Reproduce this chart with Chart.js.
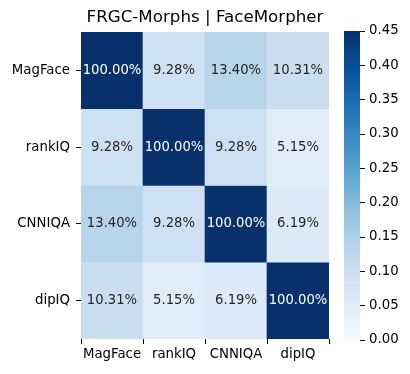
<!DOCTYPE html>
<html>
<head>
<meta charset="utf-8">
<script src="https://cdn.jsdelivr.net/npm/chart.js@4/dist/chart.umd.min.js"></script>
<style>
  html, body { margin: 0; padding: 0; background: #fff; }
  #wrap { position: relative; width: 410px; height: 374px; }
  #main { position: absolute; left: 0; top: 0; width: 410px; height: 374px; }
  #bar { position: absolute; left: 330px; top: 0; width: 80px; height: 374px; }
</style>
</head>
<body>
<div id="wrap">
  <div id="main"><canvas id="heatmap"></canvas></div>
  <div id="bar"><canvas id="colorbar"></canvas></div>
</div>
<script>
// data
const methods = ["MagFace", "rankIQ", "CNNIQA", "dipIQ"];
const rowMagFace = [1.0, 0.0928, 0.1340, 0.1031];
const rowRankIQ = [0.0928, 1.0, 0.0928, 0.0515];
const rowCNNIQA = [0.1340, 0.0928, 1.0, 0.0619];
const rowDipIQ = [0.1031, 0.0515, 0.0619, 1.0];
const matrix = [rowMagFace, rowRankIQ, rowCNNIQA, rowDipIQ];
const vmin = 0;
const vmax = 0.45;
const barTicks = [0, 0.05, 0.10, 0.15, 0.20, 0.25, 0.30, 0.35, 0.40, 0.45];
const titleText = "FRGC-Morphs | FaceMorpher";

// matplotlib "Blues"
const blues = [
    [247, 251, 255], [222, 235, 247], [198, 219, 239], [158, 202, 225],
    [107, 174, 214], [66, 146, 198], [33, 113, 181], [8, 81, 156], [8, 48, 107]
];

function bluesAt(t) {
    t = Math.max(0, Math.min(1, t));
    const pos = t * (blues.length - 1);
    const i = Math.min(Math.floor(pos), blues.length - 2);
    const f = pos - i;
    const a = blues[i], b = blues[i + 1];
    const c = a.map((v, k) => Math.round(v + (b[k] - v) * f));
    return `rgb(${c[0]}, ${c[1]}, ${c[2]})`;
}

function norm(v) {
    return (v - vmin) / (vmax - vmin);
}

const font = "'DejaVu Sans', sans-serif";
Chart.defaults.font.family = font;
Chart.defaults.color = "#000";

const datasets = matrix.map((row, r) => ({
    label: methods[r],
    data: row.map(() => [r, r + 1]),
    values: row,
    backgroundColor: row.map(v => bluesAt(norm(v))),
    borderWidth: 0,
    barPercentage: 1,
    categoryPercentage: 1,
    grouped: false
}));

// cell annotations
const annotate = {
    id: "annotate",
    afterDatasetsDraw(chart) {
        const ctx = chart.ctx;
        ctx.save();
        ctx.font = "13.2px " + font;
        ctx.textAlign = "center";
        ctx.textBaseline = "middle";
        chart.data.datasets.forEach((ds, i) => {
            chart.getDatasetMeta(i).data.forEach((el, j) => {
                const v = ds.values[j];
                ctx.fillStyle = norm(v) > 0.6 ? "#fff" : "#262626";
                ctx.fillText((v * 100).toFixed(2) + "%", el.x, (el.y + el.base) / 2);
            });
        });
        ctx.restore();
    }
};

new Chart(document.getElementById("heatmap"), {
    type: "bar",
    data: { labels: methods, datasets: datasets },
    options: {
        responsive: true,
        maintainAspectRatio: false,
        animation: false,
        layout: { padding: { left: 0, right: 81, top: 0, bottom: 0 } },
        plugins: {
            legend: { display: false },
            tooltip: { enabled: false },
            title: {
                display: true,
                text: titleText,
                fullSize: false,
                color: "#000",
                font: { size: 16.7, weight: "normal" },
                padding: { top: 8, bottom: 4 }
            }
        },
        scales: {
            x: {
                type: "category",
                grid: { drawOnChartArea: false, drawTicks: true, tickLength: 5, color: "#000" },
                border: { display: false },
                ticks: { font: { size: 13.3 }, padding: 3, maxRotation: 0 },
                afterFit(scale) { scale.height = 35; }
            },
            y: {
                type: "linear",
                min: 0,
                max: methods.length,
                reverse: true,
                afterBuildTicks(scale) {
                    scale.ticks = methods.map((m, i) => ({ value: i + 0.5 }));
                },
                grid: { drawOnChartArea: false, drawTicks: true, tickLength: 5, color: "#000" },
                border: { display: false },
                ticks: {
                    font: { size: 13.3 },
                    padding: 6,
                    callback: (v, i) => methods[i]
                },
                afterFit(scale) { scale.width = 81; }
            }
        }
    },
    plugins: [annotate]
});

// colorbar
new Chart(document.getElementById("colorbar"), {
    type: "bar",
    data: {
        labels: [""],
        datasets: [{
            data: [[vmin, vmax]],
            borderWidth: 0,
            barPercentage: 1,
            categoryPercentage: 1,
            backgroundColor(ctx) {
                const area = ctx.chart.chartArea;
                if (!area) return bluesAt(0.5);
                const g = ctx.chart.ctx.createLinearGradient(0, area.bottom, 0, area.top);
                blues.forEach((c, i) => g.addColorStop(i / (blues.length - 1), `rgb(${c[0]}, ${c[1]}, ${c[2]})`));
                return g;
            }
        }]
    },
    options: {
        responsive: true,
        maintainAspectRatio: false,
        animation: false,
        layout: { padding: { left: 14, right: 0, top: 31, bottom: 34 } },
        plugins: { legend: { display: false }, tooltip: { enabled: false } },
        scales: {
            x: { display: false },
            y: {
                position: "right",
                min: vmin,
                max: vmax,
                afterBuildTicks(scale) {
                    scale.ticks = barTicks.map(v => ({ value: v }));
                },
                grid: { drawOnChartArea: false, drawTicks: true, tickLength: 5, color: "#000" },
                border: { display: false },
                ticks: { font: { size: 13.3 }, padding: 4, callback: v => v.toFixed(2) },
                afterFit(scale) { scale.width = 50; }
            }
        }
    }
});
</script>
</body>
</html>
